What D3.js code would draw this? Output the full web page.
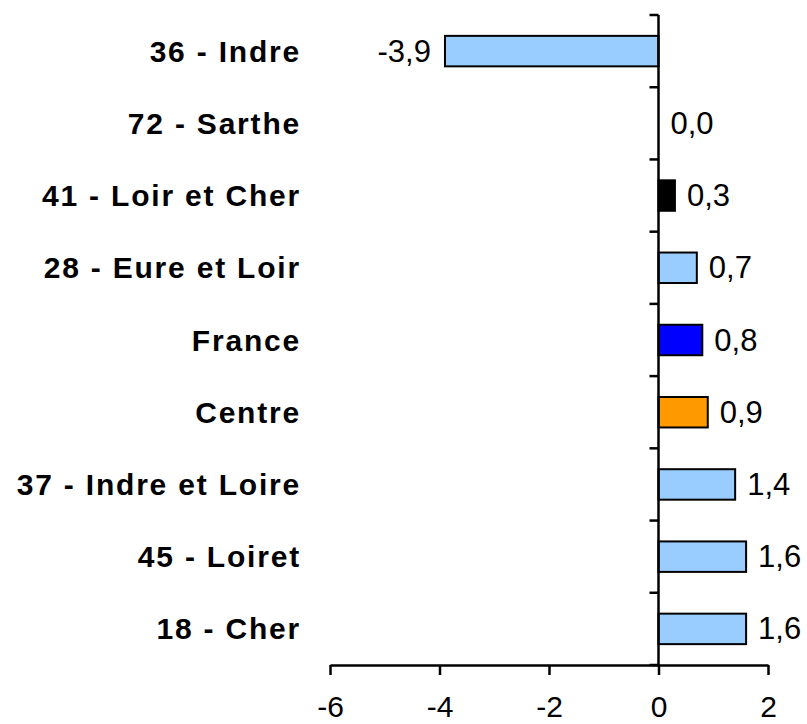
<!DOCTYPE html>
<html>
<head>
<meta charset="utf-8">
<script src="https://cdn.jsdelivr.net/npm/d3@7"></script>
<style>
  body { margin: 0; background: #fff; }
  svg { display: block; font-family: "Liberation Sans", Arial, sans-serif; }
</style>
</head>
<body>
<svg width="807" height="724"></svg>
<script>
// data, top to bottom
const categories = ['36 - Indre', '72 - Sarthe', '41 - Loir et Cher', '28 - Eure et Loir',
    'France', 'Centre', '37 - Indre et Loire', '45 - Loiret', '18 - Cher'];
const values = [-3.9, 0.0, 0.3, 0.7, 0.8, 0.9, 1.4, 1.6, 1.6];
const barColors = ['#99CCFF', '#99CCFF', '#000000', '#99CCFF', '#0000FF',
    '#FF9900', '#99CCFF', '#99CCFF', '#99CCFF'];
const xTicks = [-6, -4, -2, 0, 2];

function main() {
    const svg = d3.select('svg');
    const data = categories.map(function (c, i) {
        return { name: c, value: values[i], color: barColors[i] };
    });

    // french style numbers: comma decimal, plain hyphen minus
    const fr = d3.formatLocale({ decimal: ',', thousands: ' ', grouping: [3], currency: ['', ' €'], minus: '-' });
    const fmtVal = fr.format('.1f');
    const fmtTick = fr.format('d');

    const xScale = d3.scaleLinear().domain([-6, 2]).range([330, 768]);
    const pad = 0.578;
    const yScale = d3.scaleBand().domain(categories).range([15, 665])
        .paddingInner(pad).paddingOuter(pad / 2);

    // bars
    svg.append('g').selectAll('rect')
        .data(data)
        .enter().append('rect')
        .attr('x', function (d) { return xScale(Math.min(0, d.value)); })
        .attr('y', function (d) { return yScale(d.name); })
        .attr('width', function (d) { return Math.abs(xScale(d.value) - xScale(0)); })
        .attr('height', yScale.bandwidth())
        .attr('fill', function (d) { return d.color; })
        .attr('stroke', '#000')
        .attr('stroke-width', 2);

    // value labels
    svg.append('g').selectAll('text')
        .data(data)
        .enter().append('text')
        .attr('x', function (d) { return d.value < 0 ? xScale(d.value) - 14 : xScale(d.value) + 12; })
        .attr('y', function (d) { return yScale(d.name) + yScale.bandwidth() / 2 + 10.5; })
        .attr('text-anchor', function (d) { return d.value < 0 ? 'end' : 'start'; })
        .attr('font-size', '31px')
        .text(function (d) { return fmtVal(d.value); });

    // category labels
    svg.append('g').selectAll('text')
        .data(data)
        .enter().append('text')
        .attr('x', 301)
        .attr('y', function (d) { return yScale(d.name) + yScale.bandwidth() / 2 + 10.5; })
        .attr('text-anchor', 'end')
        .attr('font-size', '30px')
        .attr('font-weight', 'bold')
        .attr('letter-spacing', '1.8px')
        .text(function (d) { return d.name; });

    // x axis
    const xAxis = svg.append('g')
        .attr('transform', 'translate(0,665)')
        .call(d3.axisBottom(xScale).tickValues(xTicks).tickSize(10).tickSizeOuter(0).tickPadding(21)
            .tickFormat(fmtTick));
    xAxis.select('.domain').attr('stroke-width', 2.5);
    xAxis.selectAll('.tick line').attr('stroke-width', 2.5);
    xAxis.selectAll('.tick text')
        .attr('font-size', '30px')
        .attr('font-family', '"Liberation Sans", Arial, sans-serif')
        .attr('fill', '#000');

    // vertical zero axis with category ticks
    const zx = xScale(0);
    const y0 = yScale.range()[0];
    const y1 = yScale.range()[1];
    svg.append('line')
        .attr('x1', zx).attr('x2', zx)
        .attr('y1', y0).attr('y2', y1 + 1)
        .attr('stroke', '#000').attr('stroke-width', 2.5);
    const bounds = d3.range(categories.length + 1).map(function (i) { return y0 + i * yScale.step(); });
    svg.append('g').selectAll('line')
        .data(bounds)
        .enter().append('line')
        .attr('x1', zx - 9).attr('x2', zx)
        .attr('y1', function (d) { return d; })
        .attr('y2', function (d) { return d; })
        .attr('stroke', '#000').attr('stroke-width', 2.5);
}
main();
</script>
</body>
</html>
